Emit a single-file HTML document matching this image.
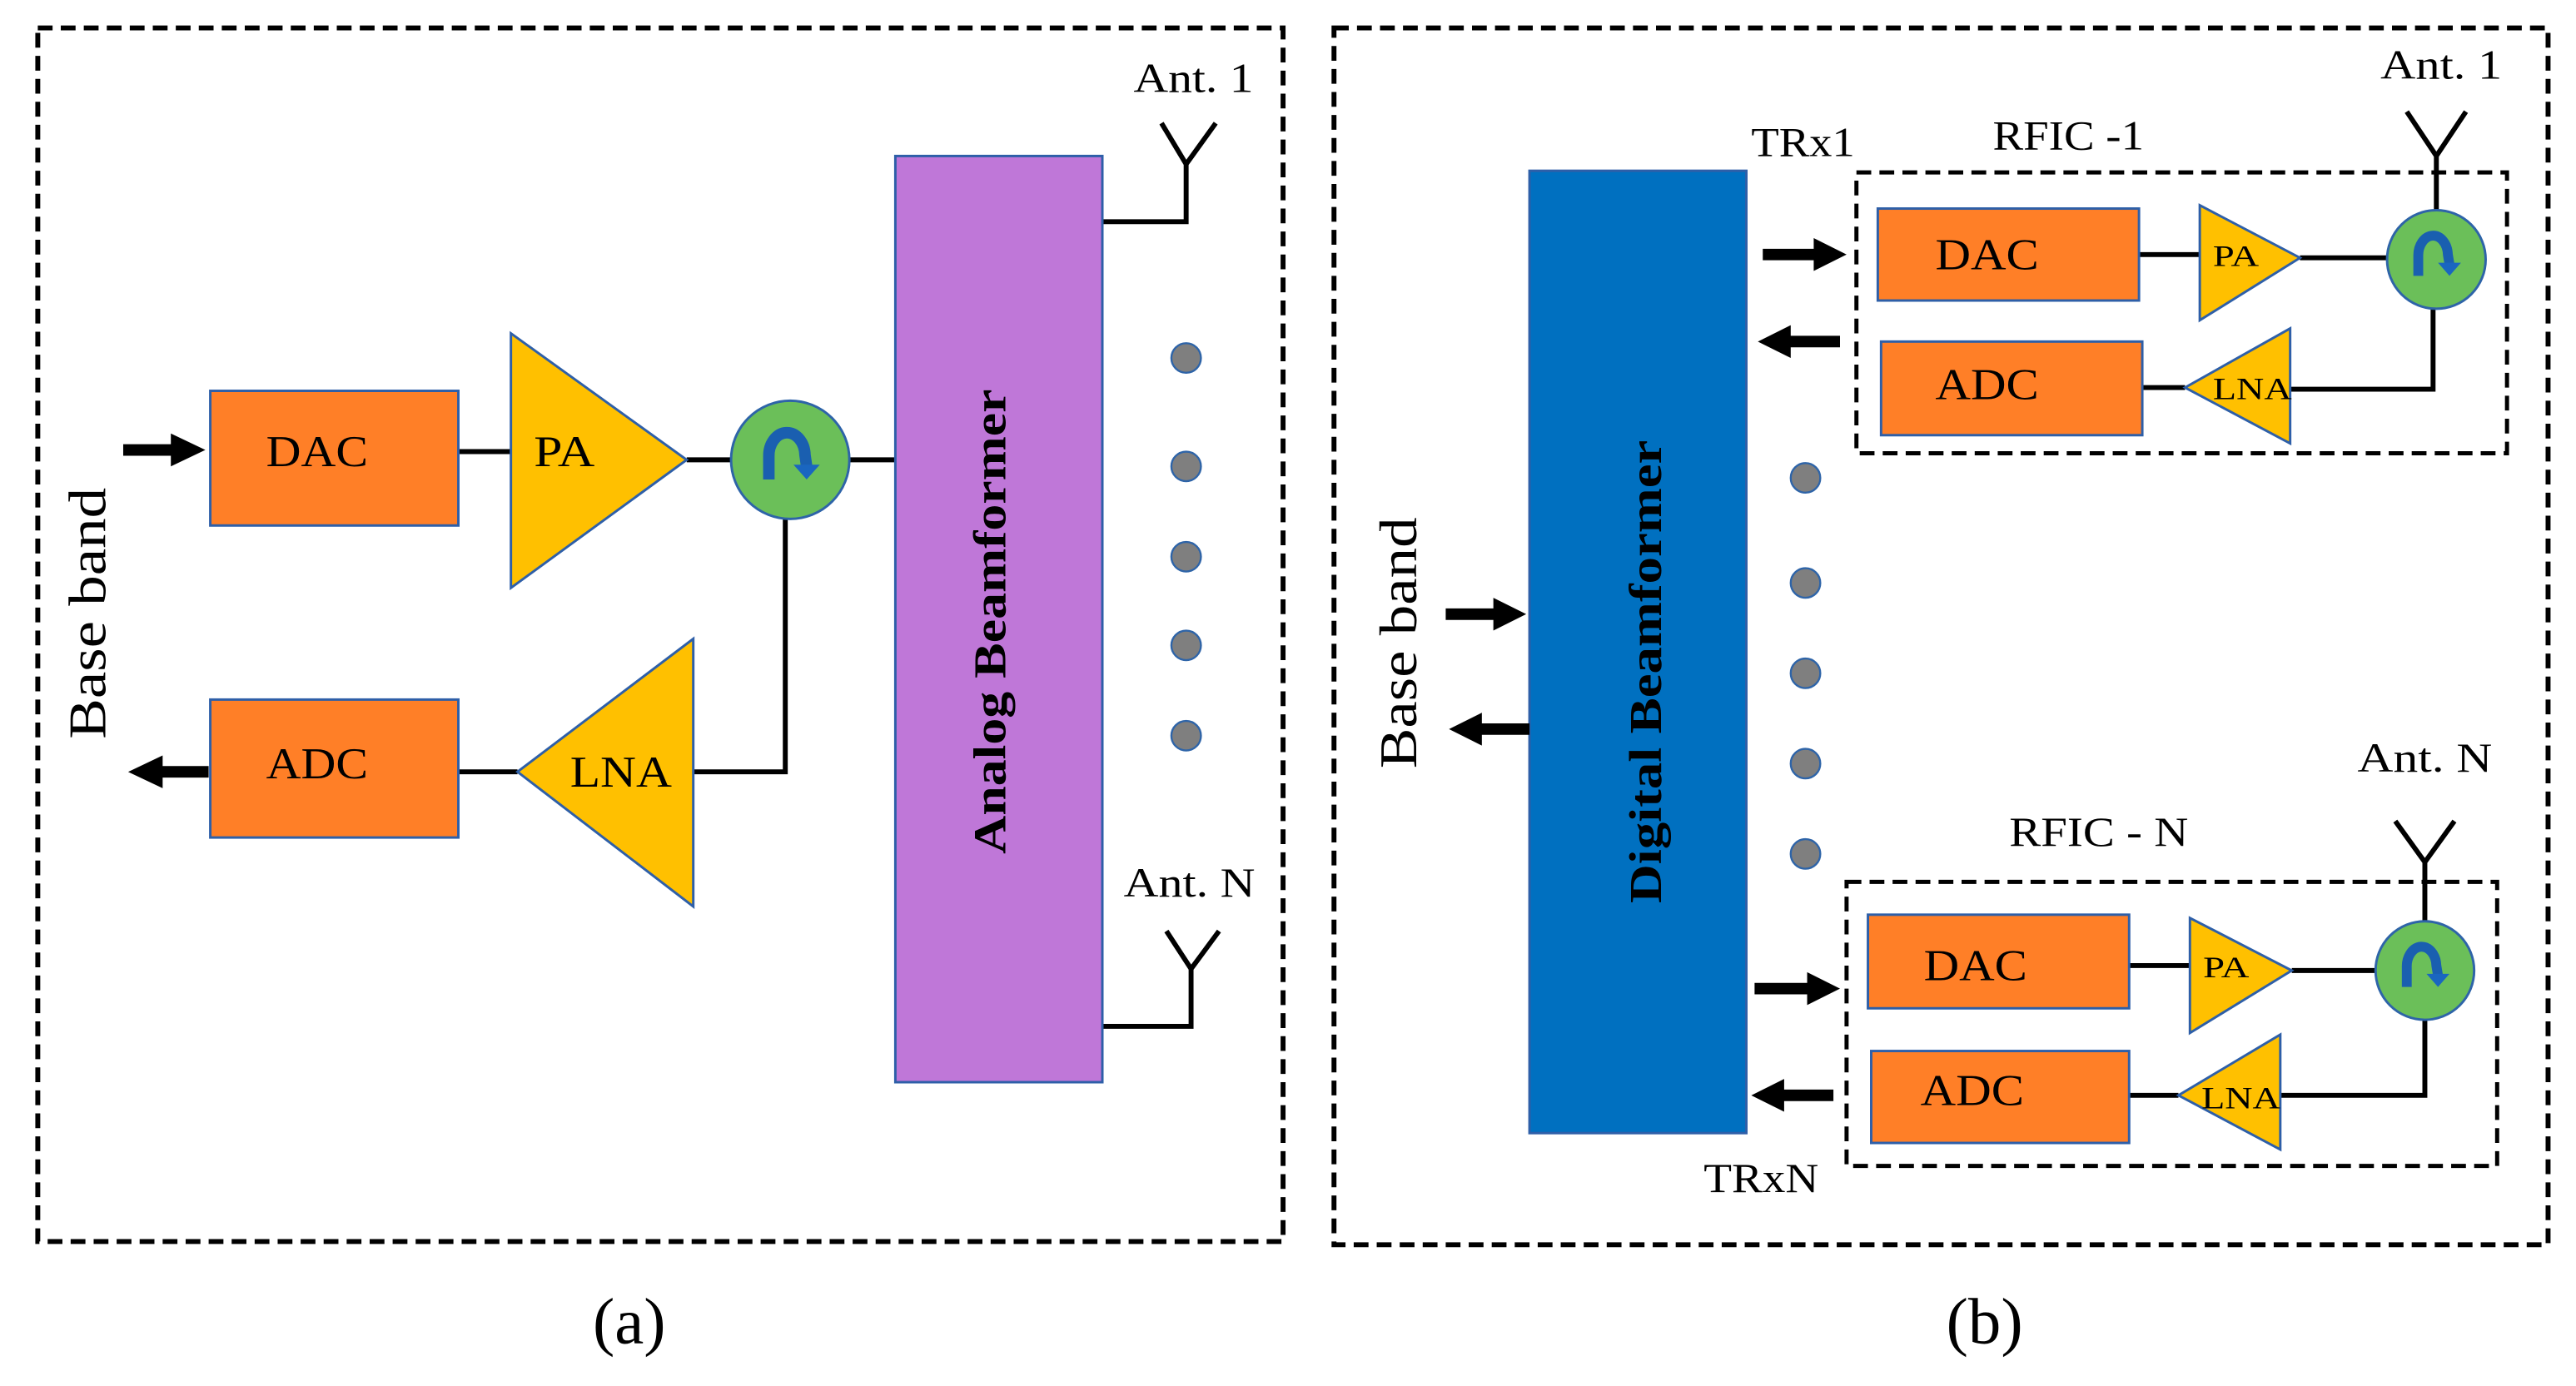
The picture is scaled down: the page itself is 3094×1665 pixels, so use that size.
<!DOCTYPE html>
<html><head><meta charset="utf-8"><style>
html,body{margin:0;padding:0;background:#fff;}
svg{display:block}
text{font-family:"Liberation Serif",serif;fill:#000}
</style></head><body>
<svg width="3094" height="1665" viewBox="0 0 1568 844" preserveAspectRatio="none" xmlns="http://www.w3.org/2000/svg">
<defs>
<g id="circ">
<circle r="36" fill="#6BBF59" stroke="#2E64A8" stroke-width="1.5"/>
<path d="M-13,12 L-13,-2 A11,14 0 0 1 9,-3 L10,4" fill="none" stroke="#1A5FB0" stroke-width="7"/>
<path d="M2,3 L18,3 L10,12 Z" fill="#1A66C0"/>
</g>
<g id="circs">
<circle r="30" fill="#6BBF59" stroke="#2E64A8" stroke-width="1.5"/>
<path d="M-11,10 L-11,-2 A9,12 0 0 1 7,-3 L8,3" fill="none" stroke="#1A5FB0" stroke-width="6"/>
<path d="M1,2 L15,2 L8,10 Z" fill="#1A66C0"/>
</g>
</defs>
<g fill="none" stroke="#000" stroke-width="3" stroke-dasharray="9,5">
<rect x="23" y="17" width="758" height="739"/>
<rect x="812" y="17" width="739" height="741"/>
<rect x="1130" y="105" width="396" height="171" stroke-width="2.5"/>
<rect x="1124" y="537" width="396" height="173" stroke-width="2.5"/>
</g>
<!-- Panel a -->
<g stroke="#000" stroke-width="3" fill="none">
<path d="M279,275 H311"/><path d="M418,280 H446"/><path d="M517,280 H545"/>
<path d="M279,470 H315"/><path d="M422,470 H478 V316"/>
<path d="M668,135 H722 V100 M707,75 L722,100 L740,75"/>
<path d="M671,625 H725 V590 M710,567 L725,590 L742,567"/>
</g>
<path d="M75,270.5 H104 V264 L125,274 L104,284 V277.5 H75 Z" fill="#000"/>
<path d="M127,466.5 H99 V460 L78,470 L99,480 V473.5 H127 Z" fill="#000"/>
<g fill="#FF7F27" stroke="#2E5FA8" stroke-width="1.5">
<rect x="128" y="238" width="151" height="82"/>
<rect x="128" y="426" width="151" height="84"/>
</g>
<g fill="#FFC000" stroke="#2E5FA8" stroke-width="1.5">
<polygon points="311,203 311,358 418,280"/>
<polygon points="422,389 422,552 315,470"/>
</g>
<use href="#circ" x="481" y="280"/>
<rect x="545" y="95" width="126" height="564" fill="#BF77D8" stroke="#2E5FA8" stroke-width="1.5"/>
<g fill="#7F7F7F" stroke="#2E64A8" stroke-width="1.2">
<circle cx="722" cy="218" r="9"/><circle cx="722" cy="284" r="9"/><circle cx="722" cy="339" r="9"/><circle cx="722" cy="393" r="9"/><circle cx="722" cy="448" r="9"/>
</g>
<g font-size="27">
<text x="162" y="284" textLength="62" lengthAdjust="spacingAndGlyphs">DAC</text>
<text x="162" y="474" textLength="62" lengthAdjust="spacingAndGlyphs">ADC</text>
<text x="325" y="284" textLength="37" lengthAdjust="spacingAndGlyphs">PA</text>
<text x="347" y="479" textLength="62" lengthAdjust="spacingAndGlyphs">LNA</text>
<text x="690" y="56" font-size="25" textLength="73" lengthAdjust="spacingAndGlyphs">Ant. 1</text>
<text x="684" y="546" font-size="25" textLength="80" lengthAdjust="spacingAndGlyphs">Ant. N</text>
<text transform="translate(64,450) rotate(-90)" font-size="32" textLength="153" lengthAdjust="spacingAndGlyphs">Base band</text>
<text transform="translate(612,520) rotate(-90)" font-weight="bold" font-size="28" textLength="283" lengthAdjust="spacingAndGlyphs">Analog Beamformer</text>
<text x="383" y="818" text-anchor="middle" font-size="40">(a)</text>
</g>
<!-- Panel b -->
<rect x="931" y="104" width="132" height="586" fill="#0070C0" stroke="#2E5FA8" stroke-width="1.5"/>
<g stroke="#000" stroke-width="3" fill="none">
<path d="M1302,155 H1339"/><path d="M1400,157 H1453"/>
<path d="M1304,236 H1330"/><path d="M1394,237 H1481 V188"/>
<path d="M1483,128 V95 M1465,68 L1483,95 L1501,68"/>
<path d="M1296,588 H1333"/><path d="M1395,591 H1446"/>
<path d="M1296,667 H1326"/><path d="M1388,667 H1476 V621"/>
<path d="M1476,561 V525 M1458,500 L1476,525 L1494,500"/>
</g>
<g fill="#000">
<path d="M880,370.5 H909 V364 L929,374 L909,384 V377.5 H880 Z"/>
<path d="M931,440.5 H902 V434 L882,444 L902,454 V447.5 H931 Z"/>
<path d="M1073,151.5 H1104 V145 L1124,155 L1104,165 V158.5 H1073 Z"/>
<path d="M1120,204.5 H1090 V198 L1070,208 L1090,218 V211.5 H1120 Z"/>
<path d="M1068,598.5 H1100 V592 L1120,602 L1100,612 V605.5 H1068 Z"/>
<path d="M1116,663.5 H1086 V657 L1066,667 L1086,677 V670.5 H1116 Z"/>
</g>
<g fill="#FF7F27" stroke="#2E5FA8" stroke-width="1.5">
<rect x="1143" y="127" width="159" height="56"/>
<rect x="1145" y="208" width="159" height="57"/>
<rect x="1137" y="557" width="159" height="57"/>
<rect x="1139" y="640" width="157" height="56"/>
</g>
<g fill="#FFC000" stroke="#2E5FA8" stroke-width="1.5">
<polygon points="1339,125 1339,195 1400,157"/>
<polygon points="1394,200 1394,270 1330,236"/>
<polygon points="1333,559 1333,629 1395,591"/>
<polygon points="1388,630 1388,700 1326,667"/>
</g>
<use href="#circs" x="1483" y="158"/>
<use href="#circs" x="1476" y="591"/>
<g fill="#7F7F7F" stroke="#2E64A8" stroke-width="1.2">
<circle cx="1099" cy="291" r="9"/><circle cx="1099" cy="355" r="9"/><circle cx="1099" cy="410" r="9"/><circle cx="1099" cy="465" r="9"/><circle cx="1099" cy="520" r="9"/>
</g>
<g font-size="25">
<text x="1178" y="164" font-size="27" textLength="63" lengthAdjust="spacingAndGlyphs">DAC</text>
<text x="1178" y="243" font-size="27" textLength="63" lengthAdjust="spacingAndGlyphs">ADC</text>
<text x="1171" y="597" font-size="27" textLength="63" lengthAdjust="spacingAndGlyphs">DAC</text>
<text x="1169" y="673" font-size="27" textLength="63" lengthAdjust="spacingAndGlyphs">ADC</text>
<text x="1347" y="162" font-size="18" textLength="28" lengthAdjust="spacingAndGlyphs">PA</text>
<text x="1347" y="243" font-size="19" textLength="48" lengthAdjust="spacingAndGlyphs">LNA</text>
<text x="1341" y="595" font-size="18" textLength="28" lengthAdjust="spacingAndGlyphs">PA</text>
<text x="1340" y="675" font-size="19" textLength="48" lengthAdjust="spacingAndGlyphs">LNA</text>
<text x="1066" y="95" textLength="63" lengthAdjust="spacingAndGlyphs">TRx1</text>
<text x="1037" y="726" textLength="70" lengthAdjust="spacingAndGlyphs">TRxN</text>
<text x="1213" y="91" textLength="92" lengthAdjust="spacingAndGlyphs">RFIC -1</text>
<text x="1223" y="515" textLength="109" lengthAdjust="spacingAndGlyphs">RFIC - N</text>
<text x="1449" y="48" textLength="74" lengthAdjust="spacingAndGlyphs">Ant. 1</text>
<text x="1435" y="470" textLength="82" lengthAdjust="spacingAndGlyphs">Ant. N</text>
<text transform="translate(862,468) rotate(-90)" font-size="32" textLength="153" lengthAdjust="spacingAndGlyphs">Base band</text>
<text transform="translate(1011,550) rotate(-90)" font-weight="bold" font-size="28" textLength="282" lengthAdjust="spacingAndGlyphs">Digital Beamformer</text>
<text x="1208" y="818" text-anchor="middle" font-size="40">(b)</text>
</g>
</svg>
</body></html>
